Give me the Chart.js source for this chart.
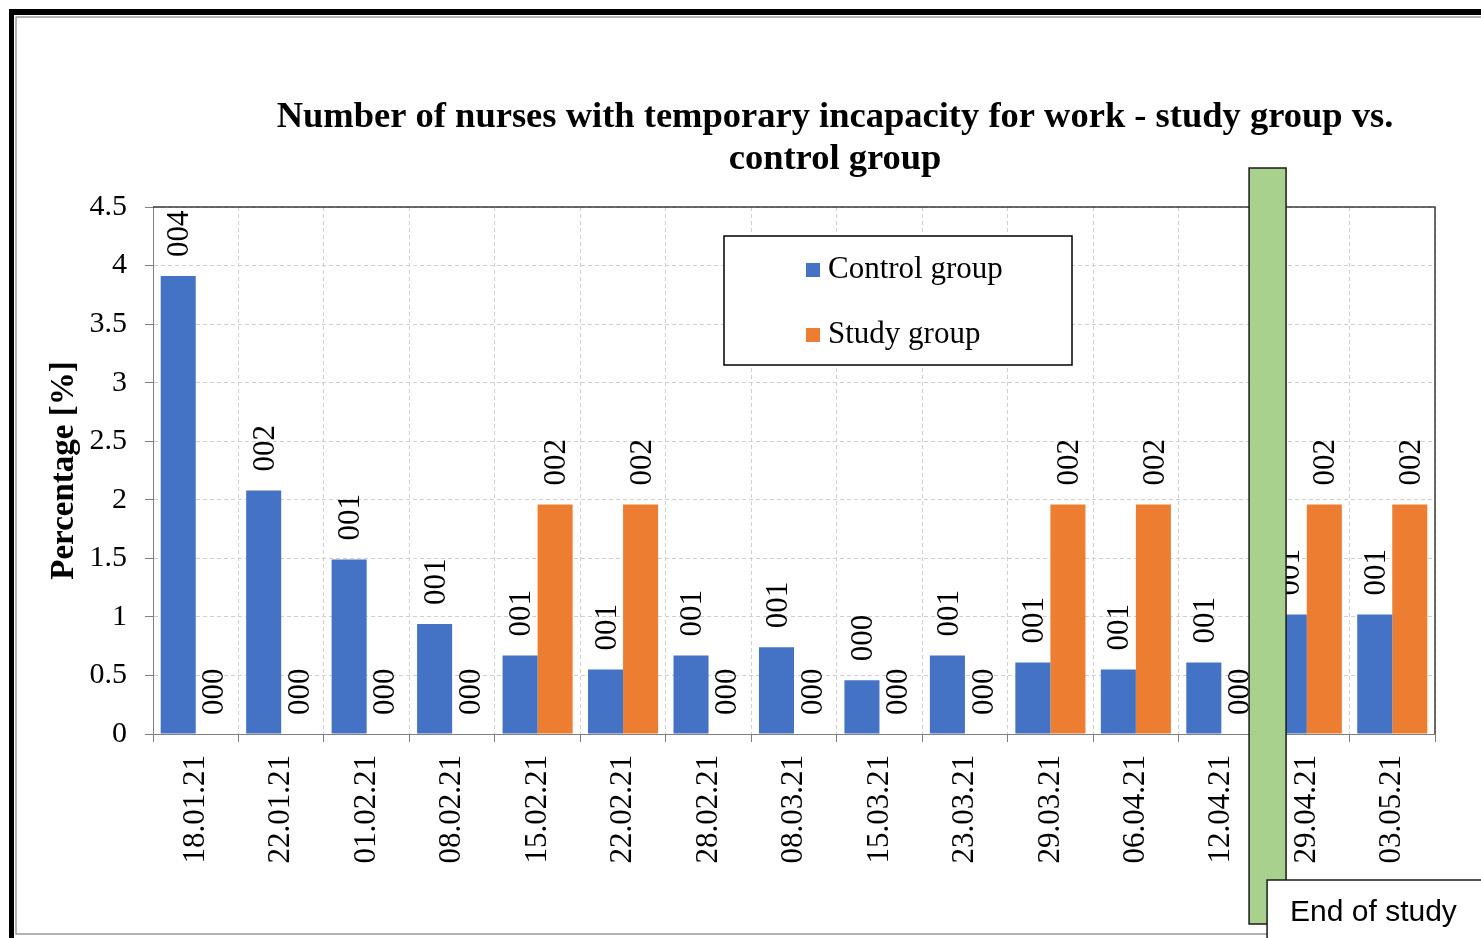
<!DOCTYPE html>
<html>
<head>
<meta charset="utf-8">
<script src="https://cdn.jsdelivr.net/npm/chart.js@4/dist/chart.umd.min.js"></script>
<style>
  html, body { margin: 0; padding: 0; background: #fff; }
</style>
</head>
<body>
<canvas id="chart" width="1481" height="938"></canvas>
<script>
// --- data ---
const dates = ['18.01.21', '22.01.21', '01.02.21', '08.02.21', '15.02.21', '22.02.21', '28.02.21',
               '08.03.21', '15.03.21', '23.03.21', '29.03.21', '06.04.21', '12.04.21', '29.04.21', '03.05.21'];
const controlGroup = [3.91, 2.08, 1.49, 0.94, 0.67, 0.55, 0.67, 0.74, 0.46, 0.67, 0.61, 0.55, 0.61, 1.02, 1.02];
const studyGroup   = [0, 0, 0, 0, 1.96, 1.96, 0, 0, 0, 0, 1.96, 1.96, 0, 1.96, 1.96];
const titleLines = ['Number of nurses with temporary incapacity for work - study group vs.', 'control group'];
const endOfStudyAfter = '12.04.21';   // marker sits between this date and the next

const SERIF = '"Liberation Serif", "Times New Roman", serif';
const SANS  = '"Liberation Sans", Arial, sans-serif';

// frame round the whole picture + solid top/right border of the plot
const framePlugin = {
  id: 'frame',
  beforeDraw(chart) {
    const { ctx, width, height } = chart;
    ctx.save();
    ctx.fillStyle = '#fff';
    ctx.fillRect(0, 0, width, height);
    ctx.fillStyle = '#000';
    ctx.fillRect(9, 9, width - 9, 6);
    ctx.fillRect(9, 9, 5, height - 9);
    ctx.strokeStyle = '#9a9a9a';
    ctx.lineWidth = 1.5;
    ctx.beginPath();
    ctx.moveTo(15.5, 17); ctx.lineTo(width, 17);
    ctx.moveTo(16, 17); ctx.lineTo(16, 934);
    ctx.lineTo(width, 934);
    ctx.stroke();
    ctx.restore();
  },
  beforeDatasetsDraw(chart) {
    const { ctx, chartArea: a } = chart;
    ctx.save();
    ctx.strokeStyle = '#3a3a3a';
    ctx.lineWidth = 1.5;
    ctx.beginPath();
    ctx.moveTo(a.left, a.top); ctx.lineTo(a.right, a.top); ctx.lineTo(a.right, a.bottom);
    ctx.stroke();
    ctx.restore();
  }
};

// title drawn by hand so it can sit off-centre like the original
const titlePlugin = {
  id: 'bigTitle',
  afterDraw(chart) {
    const { ctx } = chart;
    ctx.save();
    ctx.font = 'bold 36.5px ' + SERIF;
    ctx.fillStyle = '#000';
    ctx.textAlign = 'center';
    ctx.textBaseline = 'middle';
    ctx.fillText(titleLines[0], 835, 118);
    ctx.fillText(titleLines[1], 835, 160);
    ctx.restore();
  }
};

// vertical value labels "000" style above each bar
const valueLabels = {
  id: 'valueLabels',
  afterDatasetsDraw(chart) {
    const { ctx } = chart;
    ctx.save();
    ctx.font = '31px ' + SERIF;
    ctx.fillStyle = '#000';
    ctx.textAlign = 'left';
    ctx.textBaseline = 'middle';
    chart.data.datasets.forEach((ds, i) => {
      chart.getDatasetMeta(i).data.forEach((bar, j) => {
        const txt = String(Math.round(ds.data[j])).padStart(3, '0');
        ctx.save();
        ctx.translate(bar.x + 2, bar.y - 19);
        ctx.rotate(-Math.PI / 2);
        ctx.fillText(txt, 0, 0);
        ctx.restore();
      });
    });
    ctx.restore();
  }
};

// boxed legend inside the plot
const boxLegend = {
  id: 'boxLegend',
  afterDraw(chart) {
    const { ctx } = chart;
    ctx.save();
    ctx.fillStyle = '#fff';
    ctx.fillRect(724, 236, 348, 129);
    ctx.strokeStyle = '#000';
    ctx.lineWidth = 1.5;
    ctx.strokeRect(724, 236, 348, 129);
    ctx.font = '31px ' + SERIF;
    ctx.textBaseline = 'middle';
    chart.data.datasets.forEach((ds, i) => {
      const y = 270 + i * 65;
      ctx.fillStyle = ds.backgroundColor;
      ctx.fillRect(806, y - 7, 14, 14);
      ctx.fillStyle = '#000';
      ctx.fillText(ds.label, 828, y);
    });
    ctx.restore();
  }
};

// green "End of study" marker between two dates
const endMarker = {
  id: 'endMarker',
  afterDraw(chart) {
    const { ctx } = chart;
    const x = chart.scales.x;
    const i = dates.indexOf(endOfStudyAfter);
    const cx = (x.getPixelForValue(i) + x.getPixelForValue(i + 1)) / 2 + 3;
    ctx.save();
    ctx.fillStyle = '#a9d18e';
    ctx.strokeStyle = '#1a1a1a';
    ctx.lineWidth = 1.5;
    ctx.fillRect(cx - 18, 168, 37, 756);
    ctx.strokeRect(cx - 18, 168, 37, 756);
    ctx.fillStyle = '#fff';
    ctx.fillRect(cx, 880, 300, 70);
    ctx.strokeRect(cx, 880, 300, 70);
    ctx.fillStyle = '#000';
    ctx.font = '30px ' + SANS;
    ctx.textBaseline = 'middle';
    ctx.fillText('End of study', cx + 23, 913);
    ctx.restore();
  }
};

new Chart(document.getElementById('chart'), {
  type: 'bar',
  data: {
    labels: dates,
    datasets: [
      { label: 'Control group', data: controlGroup, backgroundColor: '#4472c4' },
      { label: 'Study group',   data: studyGroup,   backgroundColor: '#ed7d31' }
    ]
  },
  options: {
    responsive: false,
    animation: false,
    devicePixelRatio: 1,
    layout: { padding: { top: 207, right: 46, bottom: 0, left: 0 } },
    datasets: { bar: { categoryPercentage: 0.82, barPercentage: 1 } },
    plugins: {
      legend: { display: false },
      title: { display: false },
      tooltip: { enabled: false }
    },
    scales: {
      x: {
        grid: { offset: true, color: '#cfcfcf', tickColor: '#7f7f7f', tickLength: 8, tickBorderDash: [] },
        border: { color: '#7f7f7f', dash: [4, 3] },
        ticks: { minRotation: 90, maxRotation: 90, padding: 13, color: '#000', font: { family: SERIF, size: 31 } },
        afterFit(s) { s.height = 204; }
      },
      y: {
        min: 0,
        max: 4.5,
        ticks: {
          stepSize: 0.5, padding: 18, color: '#000', font: { family: SERIF, size: 30 },
          callback: v => String(+v.toFixed(1))
        },
        grid: { color: '#cfcfcf', tickColor: '#7f7f7f', tickLength: 8, tickBorderDash: [] },
        border: { color: '#7f7f7f', dash: [4, 3] },
        title: {
          display: true,
          text: 'Percentage [%]',
          color: '#000',
          font: { family: SERIF, size: 33, weight: 'bold' },
          padding: { top: 45, bottom: 0 }
        },
        afterFit(s) { s.width = 153; }
      }
    }
  },
  plugins: [framePlugin, valueLabels, boxLegend, titlePlugin, endMarker]
});
</script>
</body>
</html>
